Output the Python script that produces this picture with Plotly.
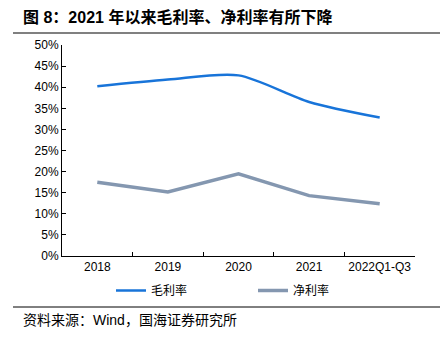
import plotly.graph_objects as go

categories = ["2018", "2019", "2020", "2021", "2022Q1-Q3"]
gross_margin = [0.402, 0.418, 0.428, 0.365, 0.328]
net_margin = [0.175, 0.152, 0.195, 0.143, 0.124]
y_ticks = [i * 0.05 for i in range(11)]
y_labels = [f"{i*5}%" for i in range(11)]

FONT = "Liberation Sans, Arial, Noto Sans CJK SC, sans-serif"
CJK = "Liberation Sans, Noto Sans CJK SC, sans-serif"
PW, PH = 353, 211

fig = go.Figure()
fig.add_trace(go.Scatter(x=categories, y=gross_margin, mode="lines", name="毛利率",
                         line=dict(color="#1874d9", width=2.5, shape="spline", smoothing=0.8)))
fig.add_trace(go.Scatter(x=categories, y=net_margin, mode="lines", name="净利率",
                         line=dict(color="#8497b0", width=3.5)))

fig.update_layout(
    width=440, height=337,
    margin=dict(l=62, r=25, t=45, b=81, autoexpand=False),
    paper_bgcolor="white", plot_bgcolor="white",
    font=dict(family=FONT, size=12, color="black"),
    showlegend=True,
    legend=dict(orientation="h", x=(111 - 62) / PW, xanchor="left",
                y=-(276 - 256) / PH, yanchor="top",
                font=dict(family=CJK, size=12), itemwidth=30,
                traceorder="normal", entrywidthmode="pixels", entrywidth=97),
)
fig.update_xaxes(type="category", range=[-0.5, 4.5], showline=True, linecolor="black",
                 linewidth=1, ticks="inside", ticklen=4, tickcolor="black", tickangle=0,
                 tickson="boundaries", showgrid=False, tickfont=dict(size=12))
fig.update_yaxes(range=[0, 0.5], tickvals=y_ticks, ticktext=y_labels, showline=True,
                 linecolor="black", linewidth=1, ticks="inside", ticklen=4,
                 tickcolor="black", showgrid=False, zeroline=False, tickfont=dict(size=12))

fig.add_annotation(text="<b>图 8：2021 年以来毛利率、净利率有所下降</b>", xref="paper", yref="paper",
                   x=-(62 - 21) / PW, y=1 + (45 - 17) / PH, xanchor="left", yanchor="middle",
                   showarrow=False, font=dict(family=CJK, size=16, color="black"))
fig.add_shape(type="line", xref="paper", yref="paper", x0=-49 / PW, x1=378 / PW,
              y0=1 + (45 - 33) / PH, y1=1 + (45 - 33) / PH, line=dict(color="#808080", width=2))
fig.add_shape(type="line", xref="paper", yref="paper", x0=-49 / PW, x1=378 / PW,
              y0=-(307 - 256) / PH, y1=-(307 - 256) / PH, line=dict(color="black", width=1))
fig.add_annotation(text="资料来源：Wind，国海证券研究所", xref="paper", yref="paper",
                   x=-(62 - 21) / PW, y=-(320 - 256) / PH, xanchor="left", yanchor="middle",
                   showarrow=False, font=dict(family=CJK, size=14, color="black"))

fig.write_html("out.html")
